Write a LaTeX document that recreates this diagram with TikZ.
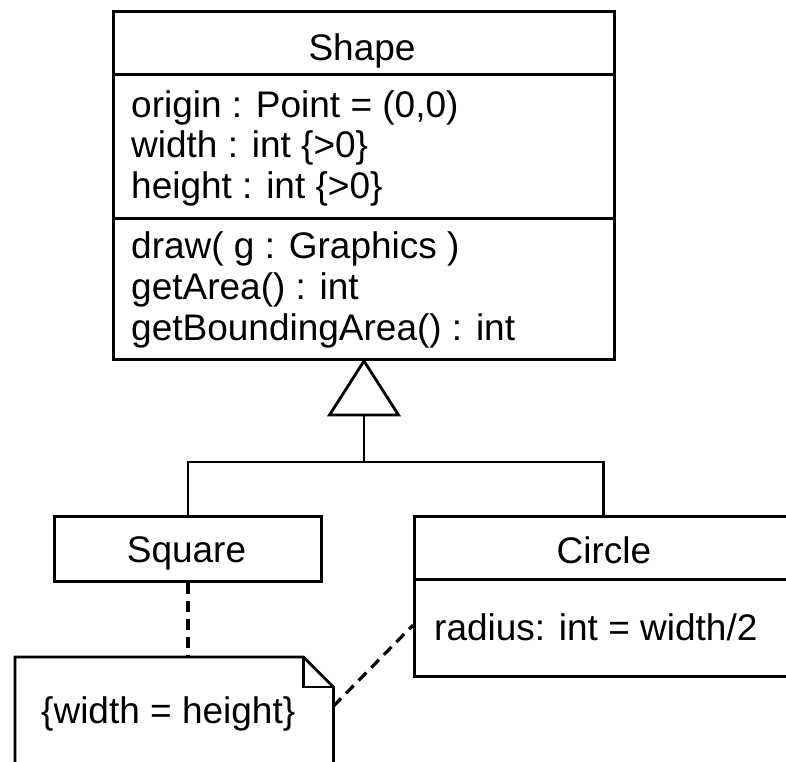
\documentclass[tikz,border=0pt]{standalone}
\usepackage{fontspec}
\setmainfont{Liberation Sans}
\begin{document}
\begin{tikzpicture}[x=1pt,y=-1pt,
  umlbox/.style={draw, line width=3pt, rectangle, inner sep=0pt, anchor=north west},
  txt/.style={inner sep=0pt, font=\fontsize{37}{40}\selectfont},
  link/.style={line width=2.8pt, line join=miter},
  notelink/.style={line width=3.2pt, dash pattern=on 11pt off 7pt}]
\useasboundingbox (0,0) rectangle (786,761);
\clip (0,0) rectangle (786,761);

% Shape class: name, attributes, operations
\node[umlbox, minimum width=501pt, minimum height=63pt]  (shapeName) at (112,10)  {};
\node[umlbox, minimum width=501pt, minimum height=144pt] (shapeAttr) at (112,73)  {};
\node[umlbox, minimum width=501pt, minimum height=141pt] (shapeOps)  at (112,217) {};
\node[txt, anchor=base] (shapeTitle) at (362,60) {Shape};
\node[txt, anchor=base west] (a1) at (131,117) {origin : Point = (0,0)};
\node[txt, anchor=base west] (a2) at (131,157.5) {width : int \{>0\}};
\node[txt, anchor=base west] (a3) at (131,198) {height : int \{>0\}};
\node[txt, anchor=base west] (o1) at (131,258) {draw( g : Graphics )};
\node[txt, anchor=base west] (o2) at (131,299) {getArea() : int};
\node[txt, anchor=base west] (o3) at (131,340) {getBoundingArea() : int};

% Square class
\node[umlbox, minimum width=267pt, minimum height=65pt] (square) at (53,515) {};
\node[txt, anchor=base] (squareTitle) at (186.5,562) {Square};

% Circle class
\node[umlbox, minimum width=378pt, minimum height=63pt] (circleName) at (413,515) {};
\node[umlbox, minimum width=378pt, minimum height=97pt] (circleAttr) at (413,578) {};
\node[txt, anchor=base] (circleTitle) at (604,563) {Circle};
\node[txt, anchor=base west] (c1) at (434,640) {radius: int = width/2};

% Constraint note with folded corner
\node[inner sep=0pt, minimum width=318pt, minimum height=150pt, anchor=north west] (note) at (15,657) {};
\draw[link] (note.south west) -- (note.north west) -- ([xshift=-30pt]note.north east)
  -- ([yshift=-30pt]note.north east) -- (note.south east);
\draw[link] ([xshift=-30pt]note.north east) -- ([xshift=-30pt,yshift=-30pt]note.north east)
  -- ([yshift=-30pt]note.north east);
\node[txt, anchor=base west] (noteText) at (41,723) {\{width = height\}};

% Generalization: hollow triangle on Shape, tree to subclasses
\coordinate (triBase) at ([yshift=-54pt]shapeOps.south);
\coordinate (junction) at (triBase |- 0,462);
\draw[link] (shapeOps.south) -- ([xshift=-34.5pt]triBase) -- ([xshift=34.5pt]triBase) -- cycle;
\draw[link] (triBase) -- (junction);
\draw[link] (square.north) |- (junction) -| (circleName.north);

% Note attachments
\coordinate (noteTop) at (square.south |- note.north);
\coordinate (noteHook) at ([yshift=26pt]note.east);
\coordinate (circleHook) at ([yshift=3pt]circleAttr.west);
\draw[notelink] (square.south) -- (noteTop);
\draw[notelink] (noteHook) -- (circleHook);
\end{tikzpicture}
\end{document}
